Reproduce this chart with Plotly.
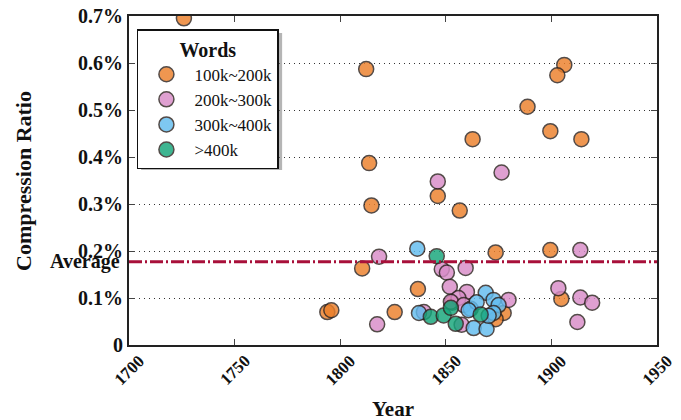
import plotly.graph_objects as go

# ---- data (years, compression ratio in %) ----
groups = ["100k~200k", "200k~300k", "300k~400k", ">400k"]

orange_year = [1726, 1812.3, 1906.1, 1902.8, 1888.7, 1899.5, 1914.2, 1862.7, 1813.7, 1846.2,
               1856.6, 1814.8, 1873.6, 1899.5, 1810.4, 1836.8, 1904.7, 1825.8, 1793.9, 1795.8,
               1877.4, 1873.6, 1853.0]
orange_ratio = [0.695, 0.587, 0.596, 0.574, 0.507, 0.455, 0.438, 0.438, 0.387, 0.317,
                0.286, 0.297, 0.197, 0.202, 0.163, 0.119, 0.098, 0.070, 0.070, 0.074,
                0.068, 0.055, 0.090]

pink_year = [1876.4, 1846.2, 1818.4, 1913.7, 1848.1, 1850.5, 1859.4, 1851.9, 1860.0, 1879.7,
             1903.3, 1913.7, 1919.3, 1912.3, 1817.5, 1839.6, 1857.5, 1856.0, 1852.4, 1858.5]
pink_ratio = [0.367, 0.348, 0.188, 0.202, 0.161, 0.154, 0.164, 0.124, 0.113, 0.096,
              0.121, 0.101, 0.090, 0.049, 0.044, 0.070, 0.043, 0.100, 0.092, 0.085]

blue_year = [1836.5, 1868.9, 1837.3, 1863.2, 1869.3, 1861.8, 1864.6, 1872.6, 1875.0, 1872.6,
             1870.3, 1860.8]
blue_ratio = [0.205, 0.111, 0.068, 0.036, 0.034, 0.077, 0.091, 0.096, 0.085, 0.068,
              0.062, 0.074]

green_year = [1845.7, 1842.9, 1849.0, 1852.4, 1854.7, 1866.5]
green_ratio = [0.189, 0.060, 0.063, 0.079, 0.045, 0.065]

average_ratio = 0.177

x_ticks = [1700, 1750, 1800, 1850, 1900, 1950]
y_ticks = [0, 0.1, 0.2, 0.3, 0.4, 0.5, 0.6, 0.7]
y_ticktext = ["0", "0.1%", "0.2%", "0.3%", "0.4%", "0.5%", "0.6%", "0.7%"]

colors = ["#EC7F2A", "#D88CC8", "#62BCEF", "#14A57A"]
series = [(orange_year, orange_ratio), (pink_year, pink_ratio),
          (blue_year, blue_ratio), (green_year, green_ratio)]

FONT = "Liberation Serif"

fig = go.Figure()
for i, (name, (xs, ys)) in enumerate(zip(groups, series)):
    fig.add_trace(go.Scatter(
        x=xs, y=ys, mode="markers", name=name, legendgroup=name,
        marker=dict(size=15, color=colors[i], opacity=0.82,
                    line=dict(color="#2E2420", width=1.5)),
        showlegend=True,
    ))

fig.add_hline(y=average_ratio, line=dict(color="#A8103A", width=3, dash="13px,3px,2px,3px"))

fig.add_annotation(x=0, xref="paper", y=average_ratio, yref="y", text="<b>Average</b>",
                   showarrow=False, xanchor="right", yanchor="middle", xshift=-7,
                   font=dict(family=FONT, size=20, color="#111"))

# rotated x tick labels centred under their ticks
for t in x_ticks:
    fig.add_annotation(x=t, xref="x", y=-0.076, yref="paper", text=f"<b>{t}</b>",
                       showarrow=False, textangle=-45, xanchor="center", yanchor="middle",
                       font=dict(family=FONT, size=17, color="#111"))

fig.add_annotation(x=0.5, xref="paper", y=-0.195, yref="paper", text="<b>Year</b>",
                   showarrow=False, xanchor="center", yanchor="middle",
                   font=dict(family=FONT, size=21, color="#111"))

fig.add_annotation(x=-0.2, xref="paper", y=0.5, yref="paper", text="<b>Compression Ratio</b>",
                   showarrow=False, textangle=-90, xanchor="center", yanchor="middle",
                   font=dict(family=FONT, size=22, color="#111"))

# legend shadow
fig.add_shape(type="rect", xref="paper", yref="paper",
              x0=0.023, x1=0.29, y0=0.532, y1=0.948,
              fillcolor="rgba(120,120,120,0.55)", line=dict(width=0), layer="above")

fig.update_layout(
    width=681, height=420,
    margin=dict(l=129, r=24, t=16, b=75),
    paper_bgcolor="white", plot_bgcolor="white",
    font=dict(family=FONT, color="#111"),
    showlegend=True,
    legend=dict(
        x=0.015, y=0.96, xanchor="left", yanchor="top",
        bgcolor="white", bordercolor="#111", borderwidth=1.5,
        font=dict(family=FONT, size=17, color="#111"),
        title=dict(text="<b>Words</b>", side="top center",
                   font=dict(family=FONT, size=20, color="#111")),
        itemsizing="trace", itemwidth=46, tracegroupgap=0,
        traceorder="grouped",
    ),
    xaxis=dict(
        range=[1700, 1950], tickvals=x_ticks, showticklabels=False,
        showgrid=False, zeroline=False, automargin=False,
        showline=True, linecolor="#222", linewidth=2, mirror="ticks",
        ticks="inside", ticklen=6, tickwidth=1, tickcolor="#444",
    ),
    yaxis=dict(
        range=[0, 0.7], tickvals=y_ticks, ticktext=[f"<b>{t}</b>" for t in y_ticktext],
        tickfont=dict(family=FONT, size=20, color="#111"),
        showgrid=True, gridcolor="#333", griddash="1px,4px", gridwidth=1,
        zeroline=False, automargin=False,
        showline=True, linecolor="#222", linewidth=2, mirror="ticks",
        ticks="inside", ticklen=6, tickwidth=1, tickcolor="#444",
    ),
)

fig.write_html("out.html")
